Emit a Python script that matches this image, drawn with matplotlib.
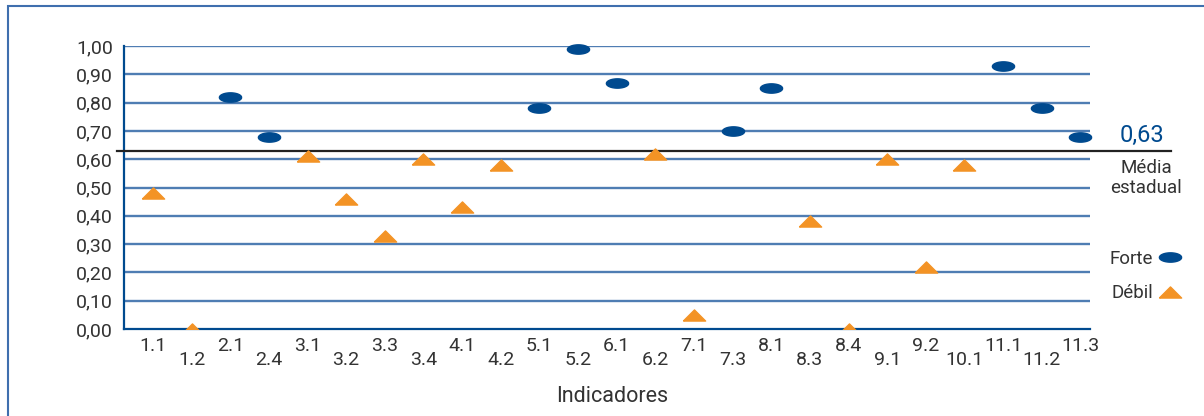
import matplotlib

matplotlib.use('Agg')
import matplotlib.pyplot as plt
import numpy
from matplotlib.path import Path
from matplotlib.patches import Rectangle

plt.rcParams['font.family'] = ['Roboto', 'DejaVu Sans']

indicadores = ['1.1', '1.2', '2.1', '2.4', '3.1', '3.2', '3.3', '3.4', '4.1', '4.2',
               '5.1', '5.2', '6.1', '6.2', '7.1', '7.3', '8.1', '8.3', '8.4', '9.1',
               '9.2', '10.1', '11.1', '11.2', '11.3']
valores = [0.48, 0.00, 0.82, 0.68, 0.61, 0.46, 0.33, 0.60, 0.43, 0.58,
           0.78, 0.99, 0.87, 0.62, 0.05, 0.70, 0.85, 0.38, 0.00, 0.60,
           0.22, 0.58, 0.93, 0.78, 0.68]
forte = [False, False, True, True, False, False, False, False, False, False,
         True, True, True, False, False, True, True, False, False, False,
         False, False, True, True, True]
media = 0.63
yticks = numpy.arange(0, 1.01, 0.1)

azul = '#004a8f'
laranja = '#f39325'
grade = '#4f7db3'
texto = '#333333'

theta = numpy.linspace(0, 2 * numpy.pi, 60)
elipse = Path(numpy.column_stack([numpy.cos(theta), 0.42 * numpy.sin(theta)]))
triangulo = Path([(-1, -0.5), (1, -0.5), (0, 0.5), (-1, -0.5)])

fig = plt.figure(figsize=(12.04, 4.16), dpi=100)
ax = fig.add_axes([124 / 1204, 1 - 329 / 416, 966 / 1204, 283 / 416])

x = numpy.arange(len(indicadores))
valores = numpy.array(valores)
forte = numpy.array(forte)

ax.plot(x[forte], valores[forte], linestyle='none', marker=elipse, markersize=16,
        color=azul, label='Forte', clip_on=False, zorder=5)
ax.plot(x[~forte], valores[~forte], linestyle='none', marker=triangulo, markersize=16,
        color=laranja, label='Débil', zorder=5)

for v in yticks[1:]:
    ax.axhline(v, color=grade, linewidth=1.7, zorder=1)
ax.axhline(media, xmin=-0.007, xmax=1.084, color='#222222', linewidth=1.6,
           clip_on=False, zorder=4)

ax.set_xlim(-0.75, len(indicadores) - 0.75)
ax.set_ylim(0, 1.0)
ax.set_yticks(yticks)
ax.set_yticklabels([('%.2f' % v).replace('.', ',') for v in yticks])
ax.set_xticks(x)
ax.set_xticklabels(indicadores)
ax.tick_params(axis='both', length=0, labelsize=14, colors=texto)
ax.tick_params(axis='y', pad=8)
for i, t in enumerate(ax.xaxis.get_major_ticks()):
    t.set_pad(6 if i % 2 == 0 else 16)

for s in ['top', 'right']:
    ax.spines[s].set_visible(False)
for s in ['left', 'bottom']:
    ax.spines[s].set_color(azul)
    ax.spines[s].set_linewidth(1.6)

fig.text(612 / 1204, 1 - 397 / 416, 'Indicadores', ha='center', va='center',
         fontsize=15.5, color=texto)
fig.text(1142 / 1204, 1 - 135 / 416, ('%.2f' % media).replace('.', ','), ha='center',
         va='center', fontsize=17, color=azul)
fig.text(1146 / 1204, 1 - 178 / 416, 'Média\nestadual', ha='center', va='center',
         fontsize=13.5, color=texto, linespacing=1.2)

fig.legend(loc='center right', bbox_to_anchor=(1200 / 1204, 1 - 276 / 416),
           markerfirst=False, frameon=False, fontsize=13.5, labelcolor=texto,
           handletextpad=0.2, labelspacing=0.9, handlelength=1.4)

fig.patches.append(Rectangle((8 / 1204, -0.1), 1.2, 1 - 6 / 416 + 0.1,
                             transform=fig.transFigure, fill=False,
                             edgecolor='#3f6fae', linewidth=1.5))

plt.savefig('out.png', dpi=100)
